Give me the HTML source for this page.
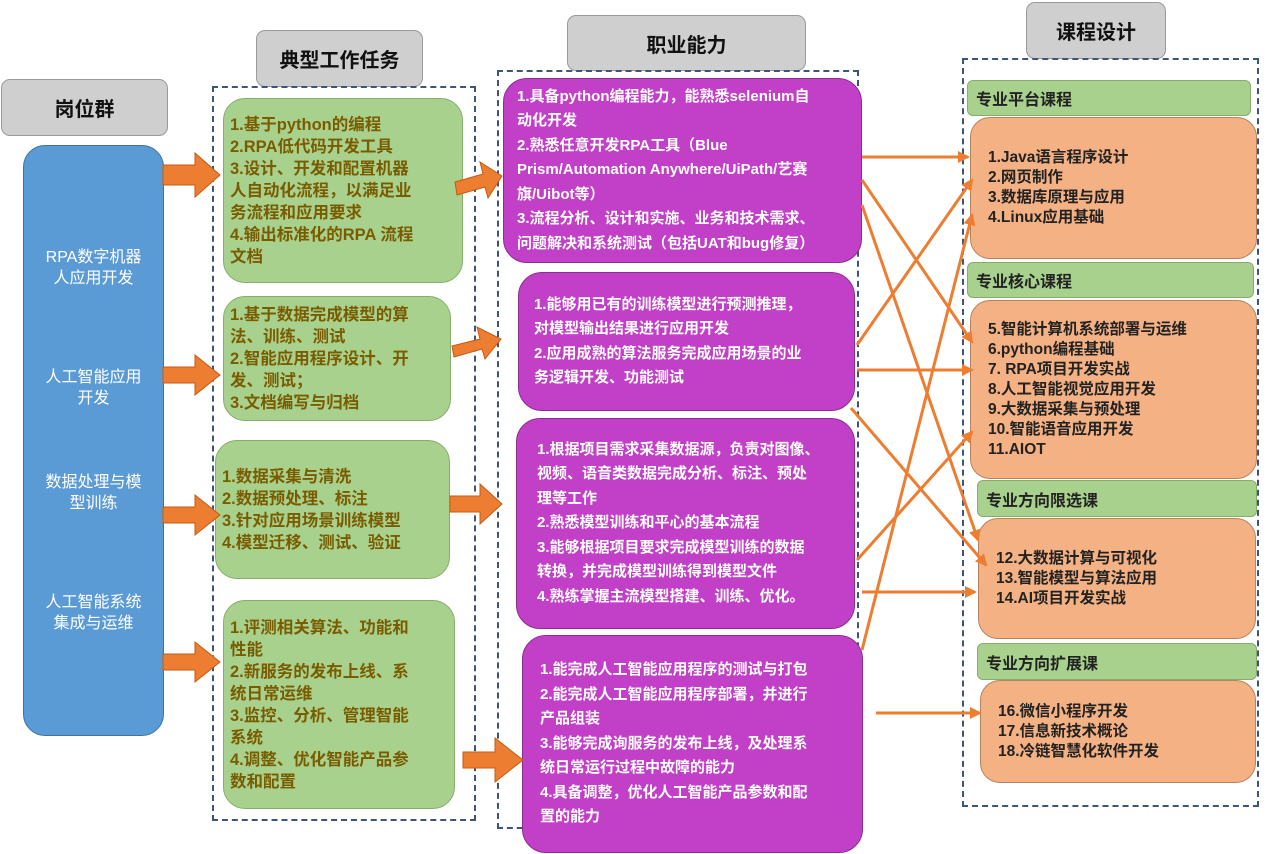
<!DOCTYPE html>
<html><head><meta charset="utf-8"><style>
body{margin:0;width:1269px;height:854px;background:#fff;position:relative;overflow:hidden;font-family:"Liberation Sans","Noto Sans CJK SC",sans-serif}
.a{position:absolute;box-sizing:border-box}
.hd{background:#d0cfcf;border:1.5px solid #9a9a9a;border-radius:9px;font-size:20px;font-weight:bold;color:#111;display:flex;align-items:center;justify-content:center}
.dash{border:2.5px dashed #3e5478}
.g{background:#a9d18e;border:1.5px solid #86ad6c;border-radius:22px;color:#7a5c00;font-size:16.5px;font-weight:bold;line-height:22px;padding:0 0 0 6px;display:flex;align-items:center;white-space:nowrap}
.p{background:#c23fc8;border:1.5px solid #8a2e90;border-radius:24px;color:#fff;font-size:15px;font-weight:bold;line-height:24.5px;padding:0 0 0 13px;display:flex;align-items:center;white-space:nowrap}
.o{background:#f4b183;border:1.5px solid #b9825e;border-radius:20px;color:#222;font-size:15.5px;font-weight:bold;line-height:20px;padding:0 0 0 17px;display:flex;align-items:center;white-space:nowrap}
.gl{background:#a9d18e;border:1.5px solid #86ad6c;border-radius:6px;color:#222;font-size:16px;font-weight:bold;padding-left:8px;display:flex;align-items:center}
.bl{color:#fff;font-size:16px;line-height:21px;text-align:center;width:141px;left:23px}
</style></head><body>
<div class="a hd" style="left:1px;top:79px;width:167px;height:57px">岗位群</div>
<div class="a" style="left:23px;top:145px;width:141px;height:591px;background:#5b9bd5;border:1.5px solid #41719c;border-radius:22px"></div>
<div class="a bl" style="top:247px">RPA数字机器<br>人应用开发</div>
<div class="a bl" style="top:367px">人工智能应用<br>开发</div>
<div class="a bl" style="top:472px">数据处理与模<br>型训练</div>
<div class="a bl" style="top:592px">人工智能系统<br>集成与运维</div>

<div class="a hd" style="left:256px;top:30px;width:167px;height:57px">典型工作任务</div>
<div class="a dash" style="left:212px;top:86px;width:264px;height:735px"></div>
<div class="a g" style="left:223px;top:98px;width:240px;height:185px"><div>1.基于python的编程<br>2.RPA低代码开发工具<br>3.设计、开发和配置机器<br>人自动化流程，以满足业<br>务流程和应用要求<br>4.输出标准化的RPA 流程<br>文档</div></div>
<div class="a g" style="left:223px;top:296px;width:228px;height:125px"><div>1.基于数据完成模型的算<br>法、训练、测试<br>2.智能应用程序设计、开<br>发、测试；<br>3.文档编写与归档</div></div>
<div class="a g" style="left:215px;top:440px;width:235px;height:139px"><div>1.数据采集与清洗<br>2.数据预处理、标注<br>3.针对应用场景训练模型<br>4.模型迁移、测试、验证</div></div>
<div class="a g" style="left:223px;top:600px;width:232px;height:209px"><div>1.评测相关算法、功能和<br>性能<br>2.新服务的发布上线、系<br>统日常运维<br>3.监控、分析、管理智能<br>系统<br>4.调整、优化智能产品参<br>数和配置</div></div>

<div class="a hd" style="left:567px;top:15px;width:239px;height:56px">职业能力</div>
<div class="a dash" style="left:497px;top:70px;width:362px;height:759px"></div>
<div class="a p" style="left:503px;top:78px;width:359px;height:185px"><div>1.具备python编程能力，能熟悉selenium自<br>动化开发<br>2.熟悉任意开发RPA工具（Blue<br>Prism/Automation Anywhere/UiPath/艺赛<br>旗/Uibot等）<br>3.流程分析、设计和实施、业务和技术需求、<br>问题解决和系统测试（包括UAT和bug修复）</div></div>
<div class="a p" style="left:518px;top:272px;width:337px;height:139px;padding-left:15px"><div>1.能够用已有的训练模型进行预测推理，<br>对模型输出结果进行应用开发<br>2.应用成熟的算法服务完成应用场景的业<br>务逻辑开发、功能测试</div></div>
<div class="a p" style="left:516px;top:418px;width:339px;height:211px;padding-left:20px"><div>1.根据项目需求采集数据源，负责对图像、<br>视频、语音类数据完成分析、标注、预处<br>理等工作<br>2.熟悉模型训练和平心的基本流程<br>3.能够根据项目要求完成模型训练的数据<br>转换，并完成模型训练得到模型文件<br>4.熟练掌握主流模型搭建、训练、优化。</div></div>
<div class="a p" style="left:522px;top:635px;width:341px;height:218px;padding-left:17px"><div>1.能完成人工智能应用程序的测试与打包<br>2.能完成人工智能应用程序部署，并进行<br>产品组装<br>3.能够完成询服务的发布上线，及处理系<br>统日常运行过程中故障的能力<br>4.具备调整，优化人工智能产品参数和配<br>置的能力</div></div>

<div class="a hd" style="left:1026px;top:2px;width:140px;height:57px">课程设计</div>
<div class="a dash" style="left:962px;top:58px;width:297px;height:749px"></div>
<div class="a gl" style="left:967px;top:80px;width:284px;height:36px">专业平台课程</div>
<div class="a o" style="left:970px;top:117px;width:287px;height:142px"><div>1.Java语言程序设计<br>2.网页制作<br>3.数据库原理与应用<br>4.Linux应用基础</div></div>
<div class="a gl" style="left:967px;top:262px;width:287px;height:36px">专业核心课程</div>
<div class="a o" style="left:970px;top:300px;width:287px;height:179px"><div>5.智能计算机系统部署与运维<br>6.python编程基础<br>7. RPA项目开发实战<br>8.人工智能视觉应用开发<br>9.大数据采集与预处理<br>10.智能语音应用开发<br>11.AIOT</div></div>
<div class="a gl" style="left:977px;top:480px;width:280px;height:37px">专业方向限选课</div>
<div class="a o" style="left:978px;top:518px;width:278px;height:121px"><div>12.大数据计算与可视化<br>13.智能模型与算法应用<br>14.AI项目开发实战</div></div>
<div class="a gl" style="left:977px;top:643px;width:280px;height:37px">专业方向扩展课</div>
<div class="a o" style="left:980px;top:680px;width:276px;height:103px"><div>16.微信小程序开发<br>17.信息新技术概论<br>18.冷链智慧化软件开发</div></div>

<svg class="a" style="left:0;top:0" width="1269" height="854">
<defs><marker id="m2" markerWidth="12" markerHeight="12" refX="10" refY="6" orient="auto" markerUnits="userSpaceOnUse"><path d="M0,0L12,6L0,12z" fill="#ed7d31"/></marker></defs>
<g fill="#ed7d31" stroke="#c55a11" stroke-width="1">
<path d="M163,165h32v-12l25,22l-25,22v-12h-32z"/>
<path d="M163,367h32v-12l25,20l-25,20v-12h-32z"/>
<path d="M163,507h32v-12l25,20l-25,20v-12h-32z"/>
<path d="M163,654h32v-12l25,20l-25,20v-12h-32z"/>
<path d="M455,182l28,-8l-3,-12l22,14l-14,22l-3,-11l-28,8z"/>
<path d="M452,346l28,-7l-3,-12l24,12l-16,20l-3,-10l-28,8z"/>
<path d="M450,496h30v-12l22,20l-22,20v-12h-30z"/>
<path d="M463,752h32v-14l28,22l-28,22v-14h-32z"/>
</g>
<g stroke="#ed7d31" stroke-width="3" fill="none" marker-end="url(#m2)">
<line x1="862" y1="157" x2="968" y2="157"/>
<line x1="862" y1="180" x2="972" y2="342"/>
<line x1="862" y1="205" x2="978" y2="540"/>
<line x1="857" y1="345" x2="972" y2="180"/>
<line x1="857" y1="370" x2="972" y2="370"/>
<line x1="851" y1="408" x2="986" y2="565"/>
<line x1="857" y1="560" x2="972" y2="432"/>
<line x1="862" y1="592" x2="975" y2="592"/>
<line x1="862" y1="650" x2="972" y2="215"/>
<line x1="876" y1="713" x2="980" y2="713"/>
</g>
</svg>
</body></html>
